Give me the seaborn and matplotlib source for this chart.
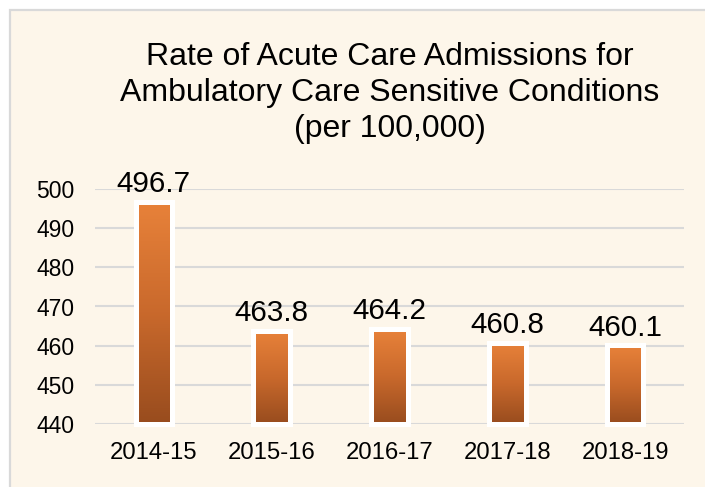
import numpy as np
import pandas as pd
import matplotlib
matplotlib.use("Agg")
import matplotlib.pyplot as plt
import seaborn as sns
from matplotlib.colors import LinearSegmentedColormap
from matplotlib.patches import Rectangle

# Data
years = ["2014-15", "2015-16", "2016-17", "2017-18", "2018-19"]
rates = [496.7, 463.8, 464.2, 460.8, 460.1]
y_ticks = [440, 450, 460, 470, 480, 490, 500]

df = pd.DataFrame({"year": years, "rate": rates})

sns.set_style("white")
plt.rcParams["font.family"] = ["Liberation Sans", "DejaVu Sans"]

bg = "#FDF6EA"
fig = plt.figure(figsize=(7.05, 4.87), dpi=100, facecolor="white")
# chart frame (cropped on right / bottom)
fig.patches.append(Rectangle((10 / 705, -0.01), 1, 1.01 - 10 / 487, transform=fig.transFigure,
                             facecolor=bg, edgecolor="#D9D9D9", linewidth=1.6, zorder=-5))

ax = fig.add_axes([95 / 705, 1 - 424 / 487, 589 / 705, 235 / 487])
ax.set_facecolor("none")

sns.barplot(data=df, x="year", y="rate", ax=ax, width=0.31, color="#E07B39",
            saturation=1, zorder=3)

y0 = y_ticks[0]
ax.set_ylim(y0, y_ticks[-1])
ax.set_yticks(y_ticks)
ax.yaxis.grid(True, color="#D9D9D9", linewidth=1.5, zorder=0)
ax.set_axisbelow(True)
for s in ax.spines.values():
    s.set_visible(False)
ax.tick_params(axis="both", length=0, colors="black")
ax.tick_params(axis="x", pad=13, labelsize=17.2)
ax.tick_params(axis="y", pad=15, labelsize=16.5)
ax.set_xlabel("")
ax.set_ylabel("")

# gradient fill per bar: orange at top to brown at bottom
cmap = LinearSegmentedColormap.from_list("bar", ["#984C1E", "#C9692C", "#E8823A"])
grad = np.linspace(0, 1, 256).reshape(-1, 1)
for p, v in zip(ax.patches, rates):
    x0, w = p.get_x(), p.get_width()
    p.set_y(y0)
    p.set_height(v - y0)
    img = ax.imshow(grad, cmap=cmap, aspect="auto", origin="lower",
                    extent=(x0, x0 + w, y0, v), zorder=2)
    img.set_clip_path(p)
    p.set_facecolor("none")
    p.set_edgecolor("white")
    p.set_linewidth(3.6)
    p.set_clip_on(False)
    ax.annotate(f"{v:.1f}", (x0 + w / 2, v), xytext=(0, 7), textcoords="offset points",
                ha="center", va="baseline", fontsize=21.3, color="black",
                annotation_clip=False)

ax.set_xlim(-0.5, len(years) - 0.5)

fig.text(0.553, 1 - 93 / 487,
         "Rate of Acute Care Admissions for\nAmbulatory Care Sensitive Conditions\n(per 100,000)",
         ha="center", va="center", fontsize=23, linespacing=1.28, color="black")

fig.savefig("out.png", dpi=100, facecolor=fig.get_facecolor())
